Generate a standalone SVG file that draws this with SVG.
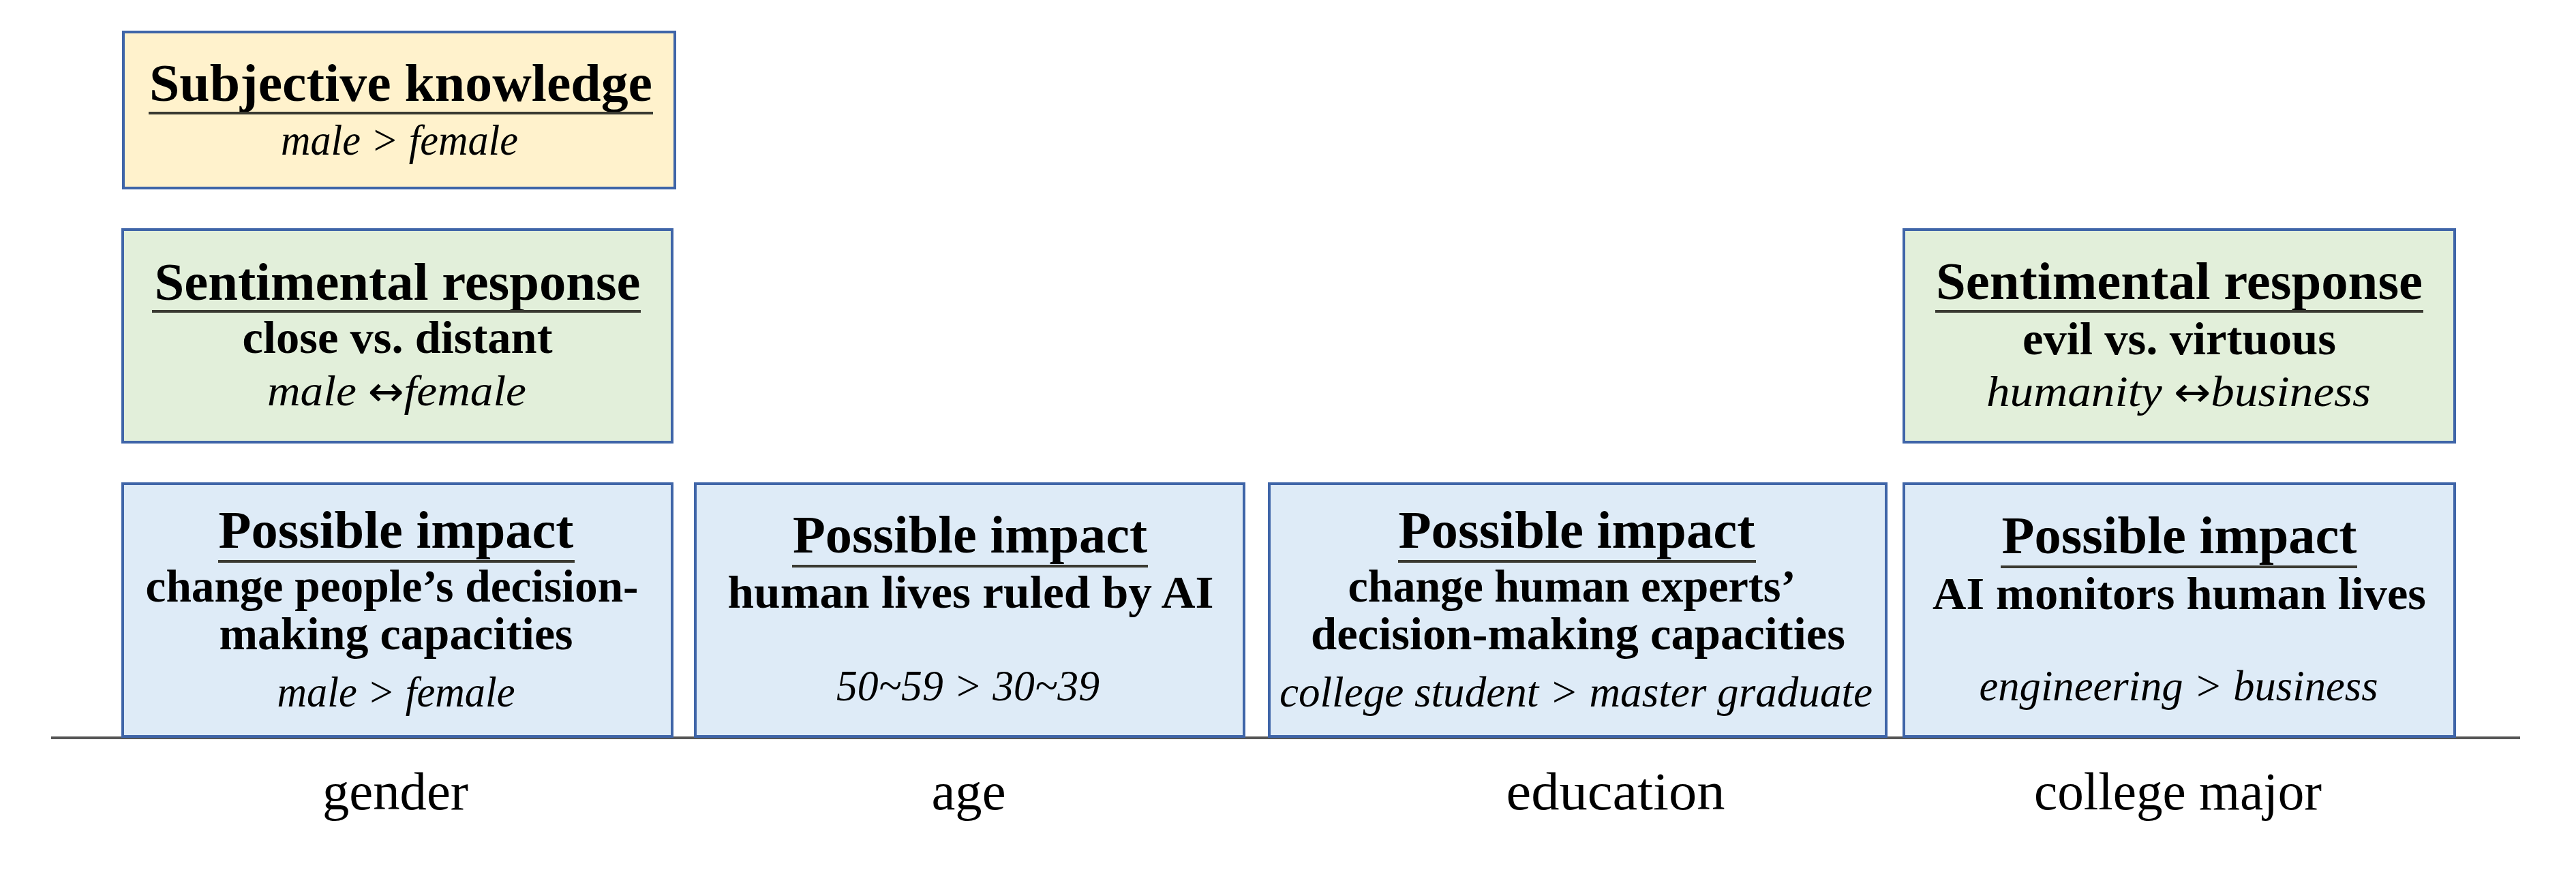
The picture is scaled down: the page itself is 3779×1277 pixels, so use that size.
<svg xmlns="http://www.w3.org/2000/svg" width="3779" height="1277" viewBox="0 0 3779 1277">
<style>
.box{stroke:#3F65A8;stroke-width:4}
.yellow{fill:#FFF2CC}
.green{fill:#E2EFDA}
.blue{fill:#DEEBF7}
text{font-family:"Liberation Serif","Times New Roman",serif;fill:#000;text-anchor:middle}
.t{font-weight:bold;font-size:78px}
.s{font-weight:bold;font-size:68px}
.i{font-style:italic;font-size:64px}
.lab{font-size:78px}
.arr{font-family:"DejaVu Sans",sans-serif;font-style:normal;font-size:60px}
.ul{stroke:#3A3A32;stroke-width:4}
.axis{stroke:#555;stroke-width:4}
</style>
<g id="connectors">
<line class="axis" x1="75" y1="1083" x2="3697" y2="1083"/>
</g>
<g id="subjective-knowledge">
<rect class="box yellow" x="181" y="47" width="809" height="229"/>
<text class="t" x="588" y="148" textLength="738" lengthAdjust="spacingAndGlyphs">Subjective knowledge</text>
<line class="ul" x1="218" y1="166" x2="958" y2="166"/>
<text class="i" x="586" y="227" textLength="348" lengthAdjust="spacingAndGlyphs">male &gt; female</text>
</g>
<g id="sentimental-gender">
<rect class="box green" x="180" y="337" width="806" height="312"/>
<text class="t" x="583" y="440" textLength="713" lengthAdjust="spacingAndGlyphs">Sentimental response</text>
<line class="ul" x1="223" y1="457" x2="940" y2="457"/>
<text class="s" x="583" y="518" textLength="455" lengthAdjust="spacingAndGlyphs">close vs. distant</text>
<text class="i" x="582" y="595" textLength="380" lengthAdjust="spacingAndGlyphs">male <tspan class="arr">↔</tspan>female</text>
</g>
<g id="impact-gender">
<rect class="box blue" x="180" y="710" width="806" height="371"/>
<text class="t" x="581" y="804" textLength="521" lengthAdjust="spacingAndGlyphs">Possible impact</text>
<line class="ul" x1="320" y1="824" x2="843" y2="824"/>
<text class="s" x="575" y="883" textLength="723" lengthAdjust="spacingAndGlyphs">change people’s decision-</text>
<text class="s" x="581" y="953" textLength="519" lengthAdjust="spacingAndGlyphs">making capacities</text>
<text class="i" x="581" y="1037" textLength="349" lengthAdjust="spacingAndGlyphs">male &gt; female</text>
</g>
<g id="impact-age">
<rect class="box blue" x="1020" y="710" width="805" height="371"/>
<text class="t" x="1423" y="811" textLength="520" lengthAdjust="spacingAndGlyphs">Possible impact</text>
<line class="ul" x1="1162" y1="831" x2="1684" y2="831"/>
<text class="s" x="1424" y="892" textLength="713" lengthAdjust="spacingAndGlyphs">human lives ruled by AI</text>
<text class="i" x="1420" y="1028" textLength="386" lengthAdjust="spacingAndGlyphs">50~59 &gt; 30~39</text>
</g>
<g id="impact-education">
<rect class="box blue" x="1862" y="710" width="905" height="371"/>
<text class="t" x="2313" y="804" textLength="523" lengthAdjust="spacingAndGlyphs">Possible impact</text>
<line class="ul" x1="2051" y1="824" x2="2576" y2="824"/>
<text class="s" x="2306" y="883" textLength="657" lengthAdjust="spacingAndGlyphs">change human experts’</text>
<text class="s" x="2315" y="953" textLength="784" lengthAdjust="spacingAndGlyphs">decision-making capacities</text>
<text class="i" x="2312" y="1037" textLength="870" lengthAdjust="spacingAndGlyphs">college student &gt; master graduate</text>
</g>
<g id="sentimental-major">
<rect class="box green" x="2793" y="337" width="808" height="312"/>
<text class="t" x="3197" y="439" textLength="714" lengthAdjust="spacingAndGlyphs">Sentimental response</text>
<line class="ul" x1="2839" y1="457" x2="3555" y2="457"/>
<text class="s" x="3197" y="520" textLength="460" lengthAdjust="spacingAndGlyphs">evil vs. virtuous</text>
<text class="i" x="3196" y="596" textLength="564" lengthAdjust="spacingAndGlyphs">humanity <tspan class="arr">↔</tspan>business</text>
</g>
<g id="impact-major">
<rect class="box blue" x="2793" y="710" width="808" height="371"/>
<text class="t" x="3197" y="812" textLength="521" lengthAdjust="spacingAndGlyphs">Possible impact</text>
<line class="ul" x1="2935" y1="832" x2="3458" y2="832"/>
<text class="s" x="3197" y="894" textLength="724" lengthAdjust="spacingAndGlyphs">AI monitors human lives</text>
<text class="i" x="3196" y="1028" textLength="585" lengthAdjust="spacingAndGlyphs">engineering &gt; business</text>
</g>
<g id="axis-labels">
<text class="lab" x="580" y="1188" textLength="214" lengthAdjust="spacingAndGlyphs">gender</text>
<text class="lab" x="1421" y="1188" textLength="109" lengthAdjust="spacingAndGlyphs">age</text>
<text class="lab" x="2370" y="1188" textLength="321" lengthAdjust="spacingAndGlyphs">education</text>
<text class="lab" x="3195" y="1188" textLength="422" lengthAdjust="spacingAndGlyphs">college major</text>
</g>
</svg>
